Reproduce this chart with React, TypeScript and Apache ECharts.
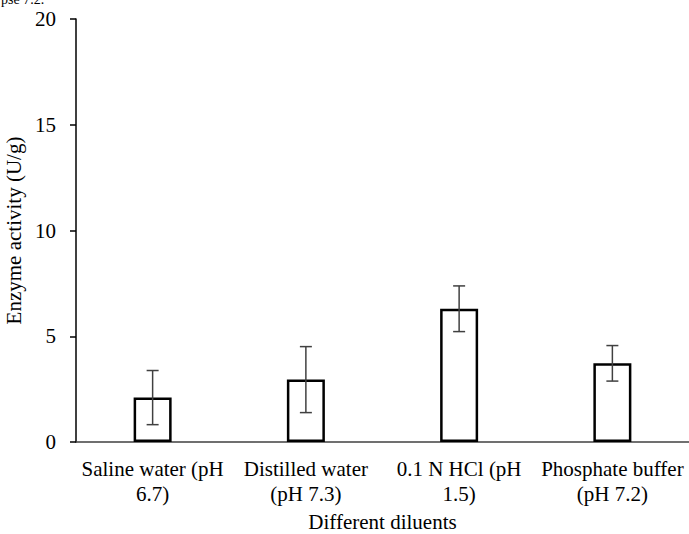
import React, { useEffect, useRef } from "react";
import * as echarts from "echarts";

const categories = [
  "Saline water (pH\n6.7)",
  "Distilled water\n(pH 7.3)",
  "0.1 N HCl (pH\n1.5)",
  "Phosphate buffer\n(pH 7.2)",
];
const activity = [2.1, 2.95, 6.3, 3.72];
const errors = [1.28, 1.56, 1.08, 0.84];
const yTicks = { min: 0, max: 20, interval: 5 };

const FONT = "'Liberation Serif', 'Times New Roman', serif";
const FS = 21;

export default function App() {
  const ref = useRef<HTMLDivElement>(null);

  useEffect(() => {
    if (!ref.current) return;
    const chart = echarts.init(ref.current, null, { renderer: "svg" });
    const errData = activity.map((v, i) => [i, v - errors[i], v + errors[i]]);

    chart.setOption({
      animation: false,
      backgroundColor: "#ffffff",
      textStyle: { fontFamily: FONT },
      graphic: [
        {
          type: "text",
          left: 1,
          top: -8,
          style: { text: "pse 7.2.", font: `14px ${FONT}`, fill: "#000" },
        },
      ],
      grid: { left: 76, right: 0, top: 19, bottom: 92, outerBoundsMode: "none", containLabel: false },
      xAxis: {
        type: "category",
        data: categories,
        name: "Different diluents",
        nameLocation: "middle",
        nameGap: 69,
        nameTextStyle: { fontFamily: FONT, fontSize: FS, color: "#000" },
        axisLine: { lineStyle: { color: "#404040", width: 1.5 } },
        axisTick: { show: false },
        axisLabel: {
          fontFamily: FONT,
          fontSize: FS,
          color: "#000",
          margin: 14,
          lineHeight: 25,
          interval: 0,
        },
      },
      yAxis: {
        type: "value",
        min: yTicks.min,
        max: yTicks.max,
        interval: yTicks.interval,
        name: "Enzyme activity (U/g)",
        nameLocation: "middle",
        nameGap: 42,
        nameTextStyle: { fontFamily: FONT, fontSize: FS, color: "#000" },
        axisLine: { show: true, lineStyle: { color: "#000", width: 1.5 } },
        axisTick: { show: true, length: 6, lineStyle: { color: "#000", width: 1.5 } },
        splitLine: { show: false },
        axisLabel: { fontFamily: FONT, fontSize: FS, color: "#000", margin: 20 },
      },
      series: [
        {
          type: "bar",
          data: activity,
          barWidth: 38,
          itemStyle: { color: "#ffffff", borderColor: "#000", borderWidth: 2.5 },
          z: 2,
        },
        {
          type: "custom",
          data: errData,
          z: 3,
          renderItem: (params: any, api: any) => {
            const x = api.value(0);
            const lo = api.coord([x, api.value(1)]);
            const hi = api.coord([x, api.value(2)]);
            const half = 6;
            const style = { stroke: "#404040", lineWidth: 1.5 };
            return {
              type: "group",
              children: [
                { type: "line", shape: { x1: lo[0], y1: lo[1], x2: hi[0], y2: hi[1] }, style },
                { type: "line", shape: { x1: hi[0] - half, y1: hi[1], x2: hi[0] + half, y2: hi[1] }, style },
                { type: "line", shape: { x1: lo[0] - half, y1: lo[1], x2: lo[0] + half, y2: lo[1] }, style },
              ],
            };
          },
        },
      ],
    });

    return () => chart.dispose();
  }, []);

  return <div ref={ref} style={{ width: 689, height: 534, position: "absolute", left: 0, top: 0 }} />;
}
